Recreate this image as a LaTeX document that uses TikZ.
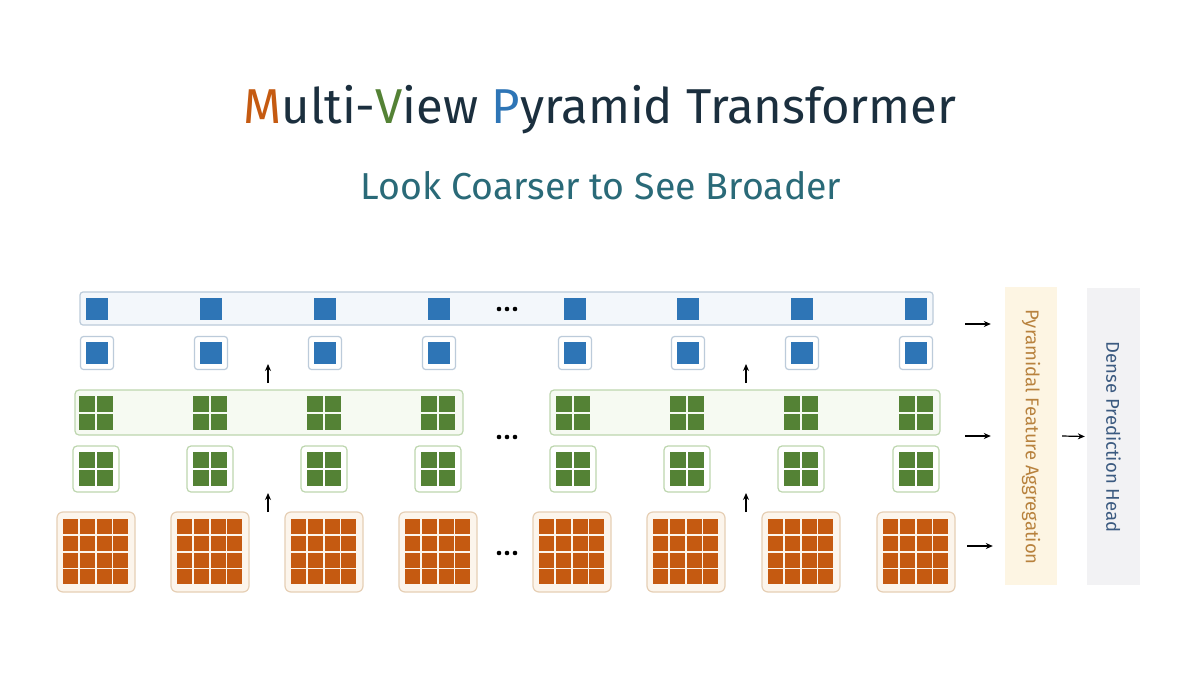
\documentclass[tikz,border=0pt]{standalone}
\usepackage{fontspec}
\setmainfont{Fira Sans}
\usetikzlibrary{arrows.meta}
\definecolor{morange}{HTML}{C55A11}
\definecolor{mgreen}{HTML}{548235}
\definecolor{mblue}{HTML}{2E75B6}
\definecolor{titlec}{HTML}{1B2F3E}
\definecolor{subc}{HTML}{2A6A78}
\definecolor{bluebd}{HTML}{BCCBDA}
\definecolor{bluebg}{HTML}{F3F7FB}
\definecolor{greenbd}{HTML}{BDD6AE}
\definecolor{greenbg}{HTML}{F6FAF2}
\definecolor{orangebd}{HTML}{E6CFB5}
\definecolor{orangebg}{HTML}{FCF5EC}
\definecolor{aggbg}{HTML}{FDF5E3}
\definecolor{aggtx}{HTML}{B8823E}
\definecolor{headbg}{HTML}{F2F2F4}
\definecolor{headtx}{HTML}{3B5A80}
\tikzset{
  longblue/.style={draw=bluebd,fill=bluebg,line width=1.2pt,rounded corners=3pt,inner sep=0pt},
  smallblue/.style={draw=bluebd,fill=white,line width=1.2pt,rounded corners=3pt,inner sep=0pt,minimum width=33pt,minimum height=33pt},
  longgreen/.style={draw=greenbd,fill=greenbg,line width=1.2pt,rounded corners=4pt,inner sep=0pt},
  smallgreen/.style={draw=greenbd,fill=white,line width=1.2pt,rounded corners=4pt,inner sep=0pt,minimum width=46pt,minimum height=46pt},
  orbox/.style={draw=orangebd,fill=orangebg,line width=1.2pt,rounded corners=6pt,inner sep=0pt,minimum width=78pt,minimum height=80pt},
  arr/.style={-{Stealth[length=7pt,width=6pt]},line width=1.2pt,black},
  dotc/.style={circle,fill=black,inner sep=0pt,minimum size=4.6pt},
}
\begin{document}
\begin{tikzpicture}[x=1pt,y=-1pt]
\useasboundingbox (0,0) rectangle (1200,675);
\fill[white] (0,0) rectangle (1200,675);
% titles
\node[text=titlec,font=\fontsize{49}{58}\selectfont] (title) at (600,110)
  {\textcolor{morange}{M}ulti-\textcolor{mgreen}{V}iew \textcolor{mblue}{P}yramid Transformer};
\node[text=subc,font=\fontsize{37.5}{44}\selectfont] (subtitle) at (601,186) {Look Coarser to See Broader};
% top long blue box
\node[longblue,minimum width=853pt,minimum height=33pt] (toprow) at (506.5,308.5) {};
\foreach \x [count=\i] in {97,211,325,439,575,688,802,916}{
  \fill[mblue] (\x-11,297.5) rectangle (\x+11,319.5);
  \node[smallblue] (b\i) at (\x,353) {};
  \fill[mblue] (\x-11,342) rectangle (\x+11,364);
}
% green long boxes
\node[longgreen,minimum width=388pt,minimum height=45pt] (gl) at (269,412.5) {};
\node[longgreen,minimum width=390pt,minimum height=45pt] (gr) at (745,412.5) {};
\foreach \x [count=\i] in {96,210,324,438,573,687,801,916}{
  \node[smallgreen] (g\i) at (\x,469) {};
  \foreach \y in {412.5,469}{
    \fill[mgreen] (\x-17,\y-17) rectangle (\x-1,\y-1);
    \fill[mgreen] (\x+1,\y-17) rectangle (\x+17,\y-1);
    \fill[mgreen] (\x-17,\y+1) rectangle (\x-1,\y+17);
    \fill[mgreen] (\x+1,\y+1) rectangle (\x+17,\y+17);
  }
}
% orange boxes
\foreach \x [count=\i] in {96,210,324,438,572,686,801,916}{
  \node[orbox] (o\i) at (\x,552) {};
  \foreach \c in {0,1,2,3}{
    \foreach \r in {0,1,2,3}{
      \fill[morange] (\x-33+\c*16.75,519+\r*16.75) rectangle (\x-33+\c*16.75+15,519+\r*16.75+15);
    }
  }
}
% dots
\foreach \d [count=\k] in {-8,0,8}{
  \node[dotc] (dt\k) at (507+\d,309) {};
  \node[dotc] (dm\k) at (507+\d,437) {};
  \node[dotc] (db\k) at (507+\d,553) {};
}
% upward arrows
\coordinate (ua1s) at (268,383); \coordinate (ua1e) at (268,364);
\coordinate (ua2s) at (746,383); \coordinate (ua2e) at (746,364);
\coordinate (ua3s) at (268,512); \coordinate (ua3e) at (268,493);
\coordinate (ua4s) at (746,512); \coordinate (ua4e) at (746,493);
\foreach \k in {1,2,3,4}{\draw[arr] (ua\k s) -- (ua\k e);}
% right side boxes
\node[fill=aggbg,minimum width=52pt,minimum height=298pt,inner sep=0pt] (agg) at (1031,436) {};
\node[rotate=-90,text=aggtx,font=\fontsize{18.5}{22}\selectfont] (aggt) at (1031,437) {Pyramidal Feature Aggregation};
\node[fill=headbg,minimum width=53pt,minimum height=297pt,inner sep=0pt] (head) at (1113.5,436.5) {};
\node[rotate=-90,text=headtx,font=\fontsize{18.5}{22}\selectfont] (headt) at (1113.5,437) {Dense Prediction Head};
% right arrows
\coordinate (ra1) at (965,324); \coordinate (ra2) at (965,436); \coordinate (ra3) at (967,546);
\draw[arr] (ra1) -- ([xshift=-14pt]agg.west |- ra1);
\draw[arr] (ra2) -- ([xshift=-14pt]agg.west |- ra2);
\draw[arr] (ra3) -- ([xshift=-12pt]agg.west |- ra3);
\draw[arr] ([xshift=5pt]agg.east) -- ([xshift=-2pt]head.west);
\end{tikzpicture}
\end{document}
